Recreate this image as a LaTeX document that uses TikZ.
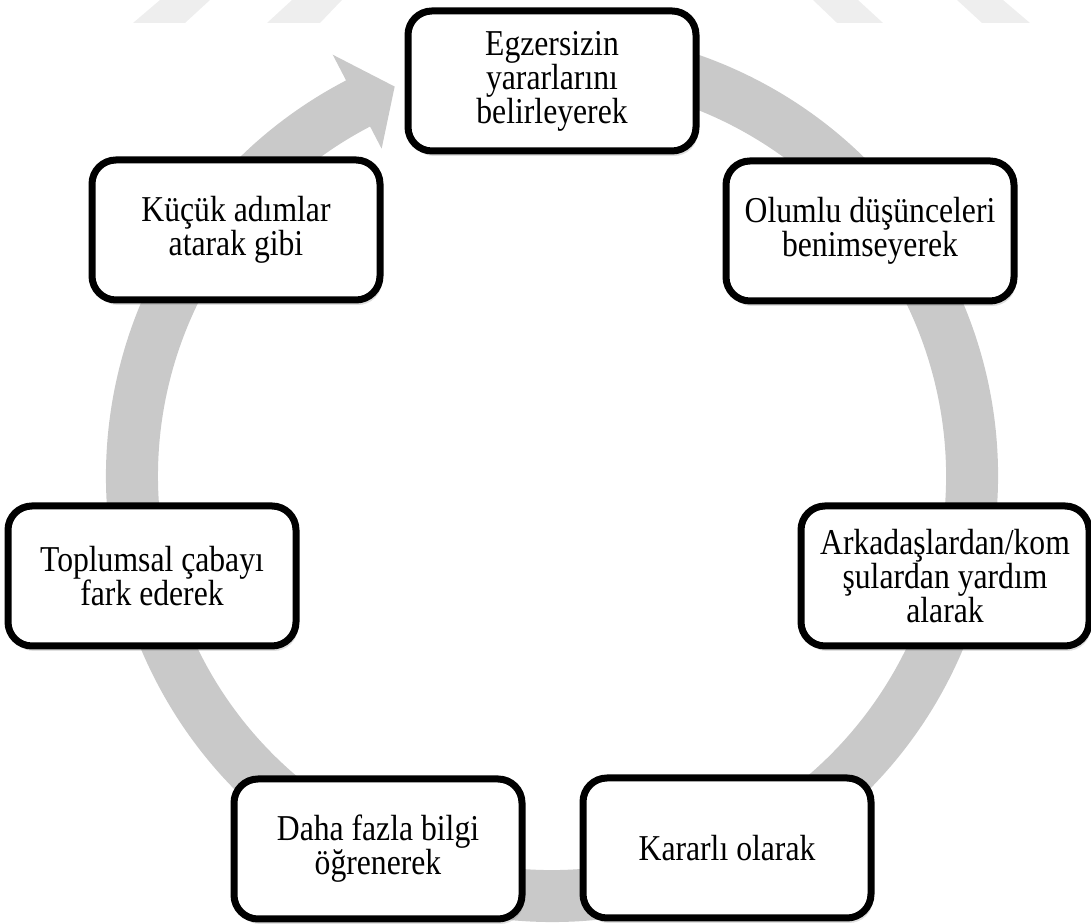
\documentclass[tikz,border=0pt]{standalone}
\usepackage{fontspec}
\setmainfont[FakeStretch=0.87]{Liberation Serif}
\usepackage{tikz}
\usetikzlibrary{shadows}
\definecolor{ring-gray}{RGB}{201,201,201}
\definecolor{mark-gray}{RGB}{238,238,238}

\tikzset{
	stepbox/.style={draw=black, line width=3.5pt, rounded corners=12pt, fill=white,
		minimum width=144pt, minimum height=70pt, inner sep=2pt, align=center,
		font=\fontsize{18.2}{17}\selectfont,
		drop shadow={opacity=0.25, shadow xshift=1pt, shadow yshift=-2.5pt}}
}

\begin{document}
\begin{tikzpicture}[x=0.5pt, y=0.5pt]

			\useasboundingbox (0,0) rectangle (1091,924);

			% faint marks along the top edge
			\fill[mark-gray] (133,901) -- (185,901) -- (210,924) -- (160,924) -- cycle;
			\fill[mark-gray] (267,901) -- (320,901) -- (342,924) -- (292,924) -- cycle;
			\fill[mark-gray] (837,901) -- (883,901) -- (858,924) -- (813,924) -- cycle;
			\fill[mark-gray] (982,901) -- (1030,901) -- (1003,924) -- (957,924) -- cycle;

			% the grey cycle arrow
			\begin{scope}[shift={(552,448)}]
				\fill[ring-gray] (117.5:394) -- (117.5:369) -- (112:420) -- (117.5:475) -- (117.5:446)
					arc[start angle=117.5, end angle=465, radius=446] -- (465:394)
					arc[start angle=465, end angle=117.5, radius=394] -- cycle;
%				\draw[red] (0,0) circle (420);
			\end{scope}

			\node[stepbox] (egz) at (552,843) {Egzersizin\\yararlarını\\belirleyerek};
			\node[stepbox] (olumlu) at (870,693) {Olumlu düşünceleri\\benimseyerek};
			\node[stepbox] (arkadas) at (945,348) {Arkadaşlardan/kom\\şulardan yardım\\alarak};
			\node[stepbox] (kararli) at (727,76) {Kararlı olarak};
			\node[stepbox] (daha) at (378,75) {Daha fazla bilgi\\öğrenerek};
			\node[stepbox] (toplum) at (152,348) {Toplumsal çabayı\\fark ederek};
			\node[stepbox] (kucuk) at (236,694) {Küçük adımlar\\atarak gibi};

		\end{tikzpicture}
\end{document}
